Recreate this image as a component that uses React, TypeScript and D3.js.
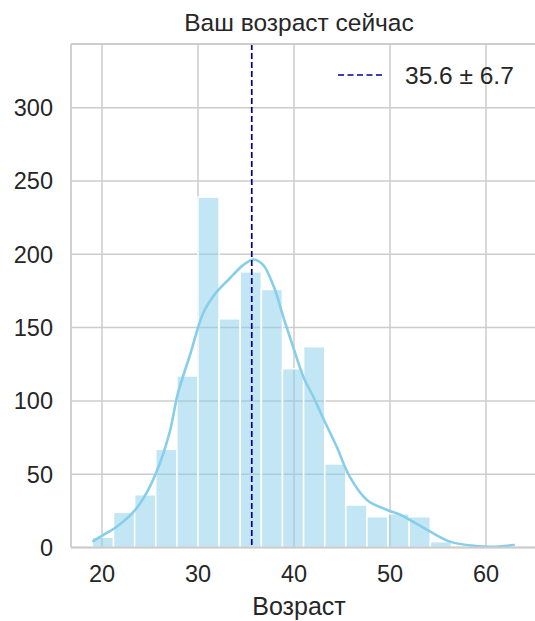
import React from "react";
import * as d3 from "d3";

const binEdgesStart = 19;
const binWidth = 2.2;
const binCounts = [7, 24, 36, 67, 117, 239, 156, 188, 176, 122, 137, 57, 29, 21, 23, 21, 4, 0, 0, 1];

const kdeAge = [19.0, 20.0, 21.5, 23.3, 24.7, 26.0, 27.1, 27.9, 29.2, 30.55, 31.9, 33.3, 34.7, 35.8, 36.8, 37.9, 38.9, 39.9, 41.0, 42.0, 43.05, 44.45, 45.8, 47.6, 49.7, 51.0, 52.1, 54.2, 56.25, 59.0, 60.5, 63.0];
const kdeCount = [4, 8, 14, 24.4, 38, 57, 80, 105, 132, 160, 174, 183.5, 192.6, 196.5, 192.6, 177.8, 157, 137, 116, 103, 88, 68.7, 48.3, 32.4, 25.6, 22.6, 18.7, 10.8, 4, 1, 0.5, 1.7];

const xTicks = [20, 30, 40, 50, 60];
const yTicks = [0, 50, 100, 150, 200, 250, 300];
const meanAge = 35.6;
const legendLabel = "35.6 ± 6.7";
const title = "Ваш возраст сейчас";
const xLabel = "Возраст";

export default function App() {
  const W = 535, H = 621;
  const left = 71, right = 535, top = 44, bottom = 547.5;
  const x = d3.scaleLinear().domain([20, 60]).range([102, 486]);
  const y = d3.scaleLinear().domain([0, 300]).range([bottom, bottom - 300 * (73.3 / 50)]);
  const font = "'Liberation Sans', Arial, sans-serif";
  const txt = "#262626";
  const grid = "#cccccc";
  const line = d3.line<number>().x((_, i) => x(kdeAge[i])).y((_, i) => y(kdeCount[i])).curve(d3.curveCatmullRom.alpha(0.5));
  return (
    <svg width={W} height={H} style={{ position: "absolute", left: 0, top: 0, background: "#fff" }} fontFamily={font}>
      <rect x={0} y={0} width={W} height={H} fill="#fff" />
      {xTicks.map((t) => (
        <line key={"gx" + t} x1={x(t)} x2={x(t)} y1={top} y2={bottom} stroke={grid} strokeWidth={1.5} />
      ))}
      {yTicks.map((t) => (
        <line key={"gy" + t} x1={left} x2={right} y1={y(t)} y2={y(t)} stroke={grid} strokeWidth={1.5} />
      ))}
      {binCounts.map((c, i) => {
        if (c <= 0) return null;
        const x0 = x(binEdgesStart + i * binWidth);
        const x1 = x(binEdgesStart + (i + 1) * binWidth);
        return (
          <rect key={"b" + i} x={x0} y={y(c)} width={x1 - x0} height={y(0) - y(c)} fill="#87ceeb" fillOpacity={0.5} stroke="#ffffff" strokeWidth={1.5} />
        );
      })}
      <path d={line(kdeAge) || ""} fill="none" stroke="#87ceeb" strokeWidth={2.6} />
      <line x1={x(meanAge)} x2={x(meanAge)} y1={top} y2={bottom} stroke="#00008b" strokeWidth={1.7} strokeDasharray="6,3" />
      <line x1={left} x2={left} y1={top} y2={bottom} stroke={grid} strokeWidth={1.8} />
      <line x1={left} x2={right} y1={bottom} y2={bottom} stroke={grid} strokeWidth={1.8} />
      <line x1={left} x2={right} y1={top} y2={top} stroke={grid} strokeWidth={1.8} />
      {yTicks.map((t) => (
        <text key={"ty" + t} x={53} y={y(t)} dy="0.36em" textAnchor="end" fontSize={23.5} fill={txt}>{t}</text>
      ))}
      {xTicks.map((t) => (
        <text key={"tx" + t} x={x(t)} y={574} dy="0.36em" textAnchor="middle" fontSize={23.5} fill={txt}>{t}</text>
      ))}
      <text x={(left + right) / 2 - 4} y={606} dy="0.36em" textAnchor="middle" fontSize={25} fill={txt}>{xLabel}</text>
      <text x={(left + right) / 2 - 4} y={22} dy="0.36em" textAnchor="middle" fontSize={24.5} fill={txt}>{title}</text>
      <line x1={338} x2={385} y1={75} y2={75} stroke="#00008b" strokeWidth={1.7} strokeDasharray="6,3.5" />
      <text x={405} y={75} dy="0.36em" fontSize={24.5} fill={txt}>{legendLabel}</text>
    </svg>
  );
}
